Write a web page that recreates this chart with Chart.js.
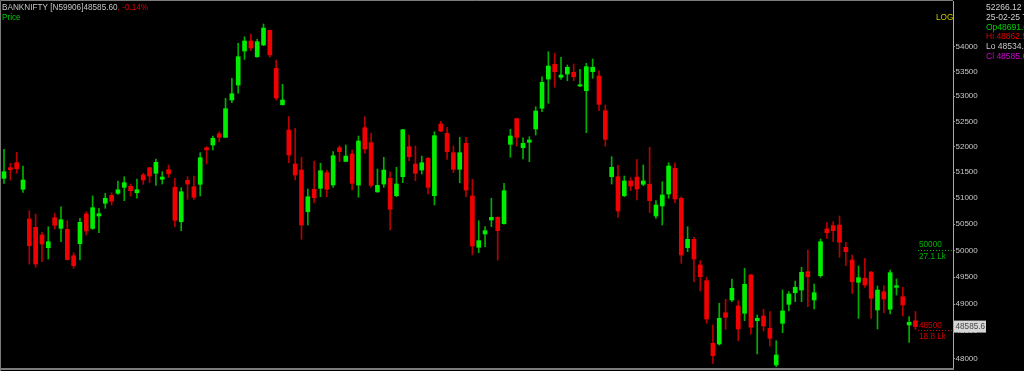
<!DOCTYPE html>
<html>
<head>
<meta charset="utf-8">
<title>BANKNIFTY</title>
<script src="https://cdn.jsdelivr.net/npm/chart.js@4.4.1/dist/chart.umd.min.js"></script>
<style>
    html, body { margin: 0; padding: 0; background: #000; }
    #wrap { width: 1024px; height: 371px; }
    canvas { display: block; }
</style>
</head>
<body>
<div id="wrap"><canvas id="priceChart" width="1024" height="371"></canvas></div>
<script>
// Daily candles, oldest first
const opens = [
    51382, 51589, 51686, 51170, 50599, 50441, 50295, 50054, 50624, 50422,
    50403, 49903, 50130, 50695, 50420, 50657, 50901, 51054, 51093, 51208,
    51228, 51104, 51447, 51589, 51480, 51364, 51550, 51208, 50548, 51344,
    51220, 51267, 51980, 52033, 52255, 52185, 52924, 53225, 53913, 54117,
    53795, 54035, 54335, 53562, 52830, 52328, 51661, 51544, 50739, 51170,
    51189, 51492, 51253, 51980, 51712, 51857, 51253, 52374, 52078, 51120,
    51272, 51382, 51047, 51414, 52000, 51661, 51544, 51772, 51047, 52447,
    52263, 51882, 51558, 52066, 51041, 50062, 50314, 50580, 50632, 50510,
    52047, 52555, 51980, 52086, 52348, 52759, 53345, 53643, 53380, 53446,
    53481, 53205, 53111, 53493, 53406, 52711, 51414, 51414, 51047, 51331,
    51408, 51267, 51267, 50657, 50849, 51079, 51577, 50997, 50054, 50213,
    49729, 49435, 48280, 48267, 48841, 49076, 48965, 48830, 49542, 48694,
    48781, 48554, 47887, 48646, 48996, 49211, 49261, 49603, 49076, 49528,
    50409, 50472, 50485, 50062, 49822, 49405, 49480, 49598, 48891, 49230,
    48904, 49311, 49137, 48615, 48691.6
];
const highs = [
    51948, 51675, 51890, 51622, 50759, 50695, 50346, 50453, 50709, 50835,
    50567, 49960, 50613, 50739, 51041, 50805, 51093, 51104, 51331, 51414,
    51272, 51369, 51480, 51597, 51759, 51511, 51642, 51382, 51201, 51414,
    51428, 51882, 52000, 52210, 52295, 52958, 53359, 54070, 54204, 54259,
    54151, 54465, 54341, 53730, 53239, 52592, 52362, 51792, 51175, 51720,
    51675, 51544, 51902, 52019, 52033, 51935, 52210, 52592, 52263, 51564,
    51792, 51511, 51597, 52342, 52230, 52013, 51817, 51792, 52295, 52500,
    52381, 52013, 52184, 52184, 51364, 50567, 50453, 50997, 50643, 51286,
    52342, 52560, 52176, 52196, 52791, 53392, 53898, 53866, 53785, 53629,
    53649, 53541, 53663, 53750, 53513, 52825, 51804, 51642, 51428, 51395,
    51753, 51642, 51988, 50951, 51317, 51686, 51686, 51027, 50453, 50251,
    49809, 49498, 48615, 49015, 49089, 49467, 49063, 49667, 49555, 48799,
    48904, 48860, 48327, 49261, 49230, 49429, 49686, 50011, 49373, 50219,
    50529, 50548, 50657, 50157, 49917, 49710, 49854, 49603, 49336, 49341,
    49635, 49467, 49311, 48768, 48862.55
];
const lows = [
    51286, 51350, 51480, 51112, 49747, 49686, 49790, 49841, 50409, 50168,
    49822, 49667, 49822, 50295, 50400, 50339, 50805, 50868, 51073, 50951,
    51041, 50997, 51267, 51298, 51247, 51272, 51402, 50453, 50377, 50977,
    50977, 51041, 51661, 51935, 52098, 52176, 52870, 53059, 53744, 53919,
    53785, 54021, 53785, 52924, 52825, 51686, 51350, 50213, 50485, 50912,
    51027, 51027, 51208, 51706, 51706, 51156, 51016, 51870, 51208, 51112,
    51208, 50390, 51027, 51298, 51725, 51336, 51466, 51079, 50868, 52295,
    51753, 51492, 51298, 51027, 49917, 49960, 50073, 50453, 49822, 50500,
    51792, 52013, 51759, 51706, 52230, 52691, 52858, 53179, 53339, 53311,
    53311, 53191, 52275, 53359, 52711, 52013, 51272, 50632, 51027, 51143,
    50964, 51239, 50720, 50613, 50485, 50997, 50912, 49760, 49979, 49416,
    49243, 48646, 47917, 48249, 48536, 49045, 48327, 48694, 48450, 48086,
    48505, 48231, 47856, 48474, 48873, 49045, 49045, 48952, 48910, 49498,
    50232, 50168, 49873, 49715, 49200, 48738, 49311, 48738, 48541, 48841,
    48817, 49168, 48781, 48298, 48534.55
];
const closes = [
    51511, 51550, 51569, 51350, 50092, 49747, 50124, 50168, 50479, 50586,
    49830, 49715, 50536, 50371, 50816, 50701, 50997, 50939, 51162, 51298,
    51143, 51162, 51350, 51428, 51694, 51408, 51472, 50574, 51123, 51272,
    51016, 51784, 51941, 52164, 52184, 52751, 53051, 53797, 54117, 53974,
    54102, 54382, 53832, 52964, 52924, 51837, 51447, 50485, 51027, 51008,
    51530, 51170, 51823, 51902, 51817, 51286, 52111, 51955, 51247, 51247,
    51544, 50785, 51272, 52334, 51804, 51480, 51686, 51208, 52216, 52308,
    51902, 51558, 51882, 51156, 50087, 50187, 50377, 50632, 50377, 51143,
    52210, 52184, 52066, 52131, 52705, 53279, 53608, 53493, 53426, 53582,
    53392, 53231, 53594, 53582, 52838, 52145, 51597, 50753, 51331, 51234,
    51175, 51331, 50951, 50868, 51060, 51622, 50983, 49917, 50213, 49841,
    49510, 48725, 48055, 48738, 48757, 49293, 48541, 49368, 48573, 48738,
    48597, 48371, 48068, 48873, 49187, 49311, 49592, 49510, 49211, 50168,
    50339, 50377, 50157, 49979, 49416, 49491, 49355, 49107, 49261, 49094,
    49585, 49341, 48984, 48665, 48585.6
];

// Price axis
const priceTicks = [48000, 48500, 49000, 49500, 50000, 50500, 51000, 51500, 52000, 52500, 53000, 53500, 54000];

// Alert levels with their volume notes
const alertPrices = [50000, 48500];
const alertVolumes = ['27.1 Lk', '18.8 Lk'];

// Header and info panel texts
const symbolTitle = 'BANKNIFTY [N59906]48585.60';
const changeText = ', -0.14%';
const lastPrice = 48585.6;
const infoLines = ['52266.12', '25-02-25 Tue', 'Op48691.60', 'Hi 48862.55', 'Lo 48534.55', 'Cl 48585.60'];

// Colors
const upBody = '#00ee00';
const downBody = '#f00000';
const upWick = '#00b000';
const downWick = '#b80000';
const infoColors = ['#d0d0d0', '#d0d0d0', '#00d000', '#e00000', '#c8c8c8', '#d000d0'];
const fontName = '"Liberation Sans", Arial, sans-serif';

// Build bar data: wicks span low-high, bodies span open-close
const isUp = closes.map((c, i) => c >= opens[i]);
const wickData = highs.map((h, i) => ({ x: i, y: [lows[i], h] }));
const bodyData = opens.map((o, i) => ({ x: i, y: [Math.min(o, closes[i]), Math.max(o, closes[i])] }));

// Everything drawn on top of the candles: frame, titles, alerts, price box
const overlayPlugin = {
    id: 'overlay',
    afterDraw(chart) {
        const ctx = chart.ctx;
        const area = chart.chartArea;
        const yScale = chart.scales.y;
        ctx.save();

        // Frame lines
        ctx.strokeStyle = '#7c7c7c';
        ctx.lineWidth = 1;
        ctx.beginPath();
        ctx.moveTo(0.5, 371);
        ctx.lineTo(0.5, 0.5);
        ctx.lineTo(area.right, 0.5);
        ctx.stroke();
        ctx.lineWidth = 2;
        ctx.beginPath();
        ctx.moveTo(0, 369);
        ctx.lineTo(area.right + 1, 369);
        ctx.stroke();

        // Title
        ctx.font = '8.2px ' + fontName;
        ctx.textBaseline = 'middle';
        ctx.textAlign = 'left';
        ctx.fillStyle = '#c4c4c4';
        ctx.fillText(symbolTitle, 2, 7.5);
        const w = ctx.measureText(symbolTitle).width;
        ctx.fillStyle = '#e00000';
        ctx.fillText(changeText, 2 + w, 7.5);
        ctx.fillStyle = '#00c800';
        ctx.fillText('Price', 2, 18);
        ctx.fillStyle = '#c8c800';
        ctx.fillText('LOG', 936, 18);

        // Alert levels
        alertPrices.forEach((p, i) => {
            const y = yScale.getPixelForValue(p);
            const color = p > lastPrice ? '#00b400' : '#d00000';
            ctx.strokeStyle = color;
            ctx.lineWidth = 1;
            ctx.setLineDash([1, 2]);
            ctx.beginPath();
            ctx.moveTo(918, Math.round(y) - 0.5);
            ctx.lineTo(area.right, Math.round(y) - 0.5);
            ctx.stroke();
            ctx.setLineDash([]);
            ctx.fillStyle = color;
            ctx.fillText(String(p), 919, y - 5.6);
            ctx.fillText(alertVolumes[i], 919, y + 5.8);
        });

        // Last price box on the axis
        const py = yScale.getPixelForValue(lastPrice);
        ctx.fillStyle = '#d6d6d6';
        ctx.fillRect(954, py - 6, 32, 12);
        ctx.fillStyle = '#4a4a4a';
        ctx.fillText(lastPrice.toFixed(1), 955.5, py + 0.5);

        // Info panel
        ctx.font = '8.5px ' + fontName;
        infoLines.forEach((t, i) => {
            ctx.fillStyle = infoColors[i];
            ctx.fillText(t, 986, 8 + i * 9.7);
        });

        ctx.restore();
    }
};

const chart = new Chart(document.getElementById('priceChart').getContext('2d'), {
    type: 'bar',
    data: {
        datasets: [
            {
                label: 'Body',
                data: bodyData,
                backgroundColor: isUp.map(u => u ? upBody : downBody),
                barThickness: 4,
                grouped: false,
                borderWidth: 0
            },
            {
                label: 'Wick',
                data: wickData,
                backgroundColor: isUp.map(u => u ? upWick : downWick),
                barThickness: 1,
                grouped: false,
                borderWidth: 0
            }
        ]
    },
    options: {
        responsive: false,
        animation: false,
        devicePixelRatio: 1,
        events: [],
        layout: { padding: { left: 1, top: 1, right: 0, bottom: 2 } },
        plugins: {
            legend: { display: false },
            tooltip: { enabled: false }
        },
        scales: {
            x: {
                type: 'linear',
                display: false,
                offset: false,
                min: -0.474,
                max: 149.93
            },
            y: {
                type: 'logarithmic',
                position: 'right',
                min: 47814,
                max: 54940,
                grid: { drawOnChartArea: false, tickLength: 2, color: '#909090' },
                border: { display: true, color: '#a8a8a8', width: 1 },
                ticks: {
                    autoSkip: false,
                    padding: 0.5,
                    color: '#c8c8c8',
                    font: { family: fontName, size: 8 },
                    callback: v => String(v)
                },
                afterBuildTicks: scale => {
                    scale.ticks = priceTicks.map(v => ({ value: v }));
                },
                afterFit: scale => {
                    scale.width = 71;
                    scale.paddingTop = 0;
                    scale.paddingBottom = 0;
                }
            }
        }
    },
    plugins: [overlayPlugin]
});
</script>
</body>
</html>
